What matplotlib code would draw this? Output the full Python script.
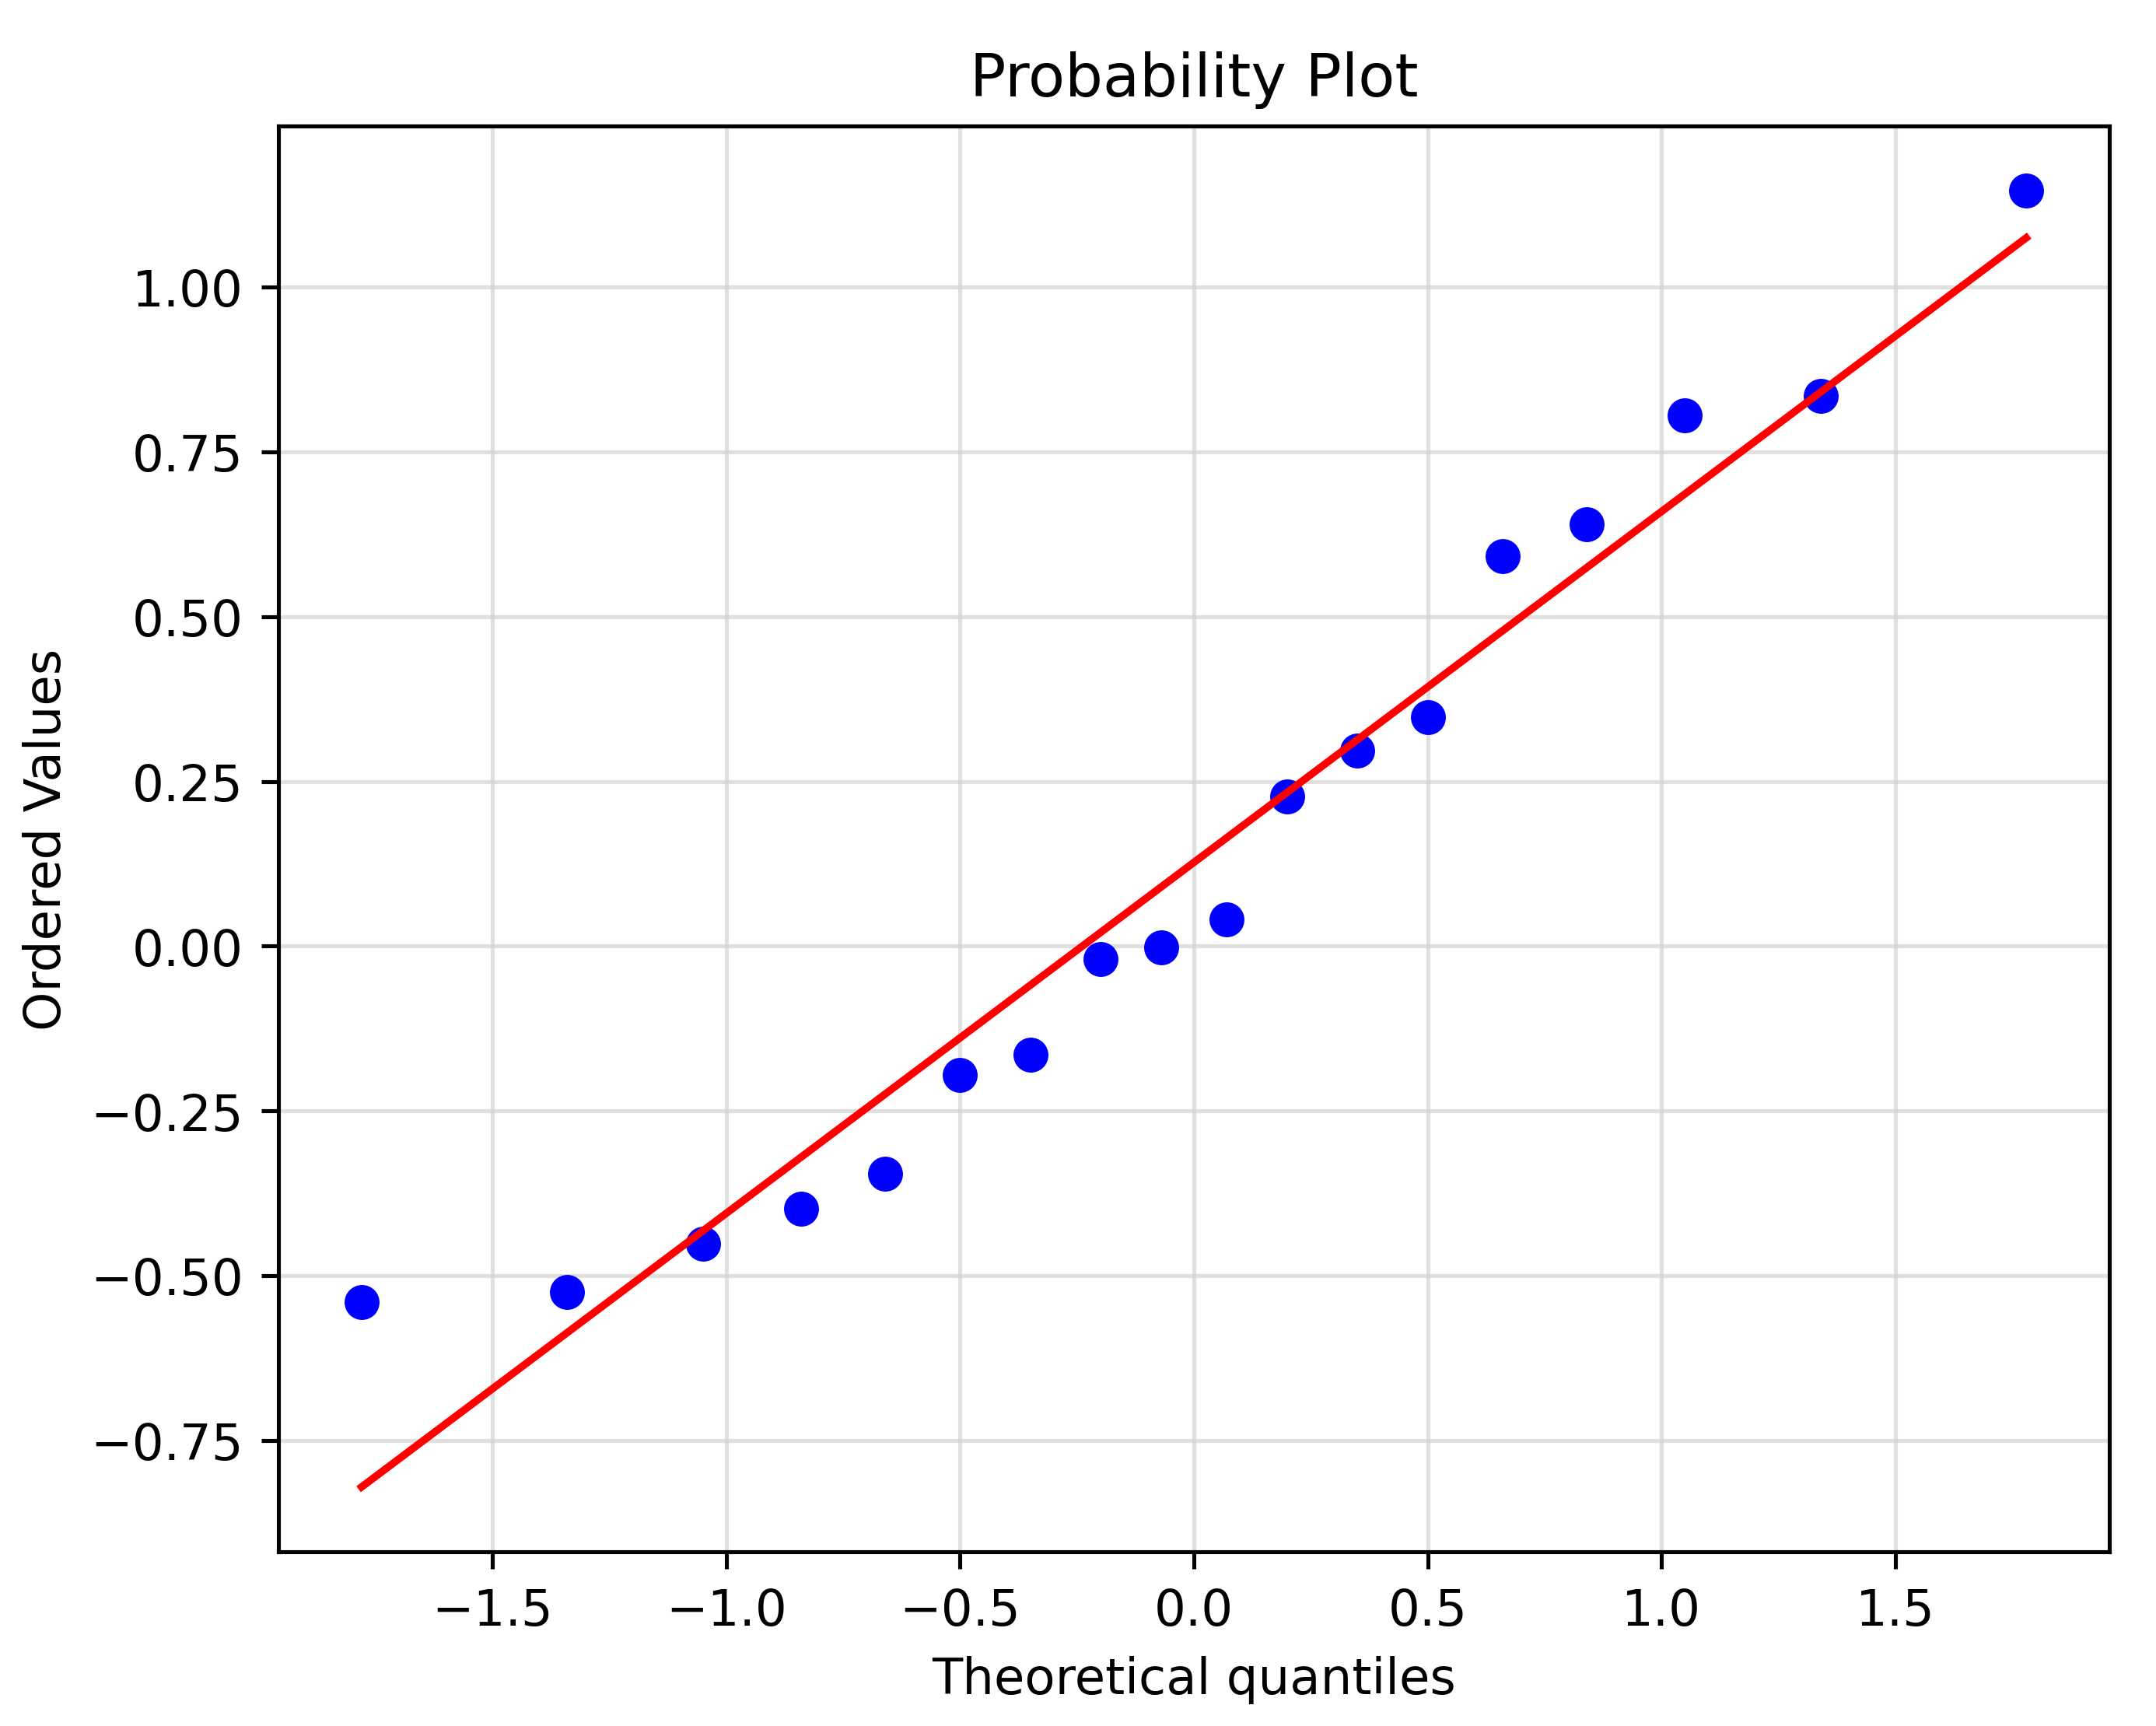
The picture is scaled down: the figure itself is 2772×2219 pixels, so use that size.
import numpy as np
import matplotlib.pyplot as plt

# cuantiles teóricos y valores ordenados
theoretical = [-1.78, -1.34, -1.05, -0.84, -0.66, -0.50, -0.35, -0.20, -0.07,
               0.07, 0.20, 0.35, 0.50, 0.66, 0.84, 1.05, 1.34, 1.78]
ordered = [-0.540, -0.525, -0.452, -0.398, -0.345, -0.196, -0.165, -0.020, -0.002,
           0.040, 0.227, 0.297, 0.347, 0.592, 0.640, 0.805, 0.835, 1.146]

x = np.array(theoretical)
y = np.array(ordered)
slope, intercept = np.polyfit(x, y, 1)

fig, ax = plt.subplots(figsize=(6, 4.805), dpi=462)
fig.subplots_adjust(left=0.1291, right=0.9784, top=0.9266, bottom=0.1009)

ax.plot(x, y, 'bo')
ax.plot(x, slope * x + intercept, 'r-')
ax.grid(True, color='lightgray', alpha=0.7)
ax.set_title('Probability Plot')
ax.set_xlabel('Theoretical quantiles')
ax.set_ylabel('Ordered Values')

fig.savefig('out.png')
